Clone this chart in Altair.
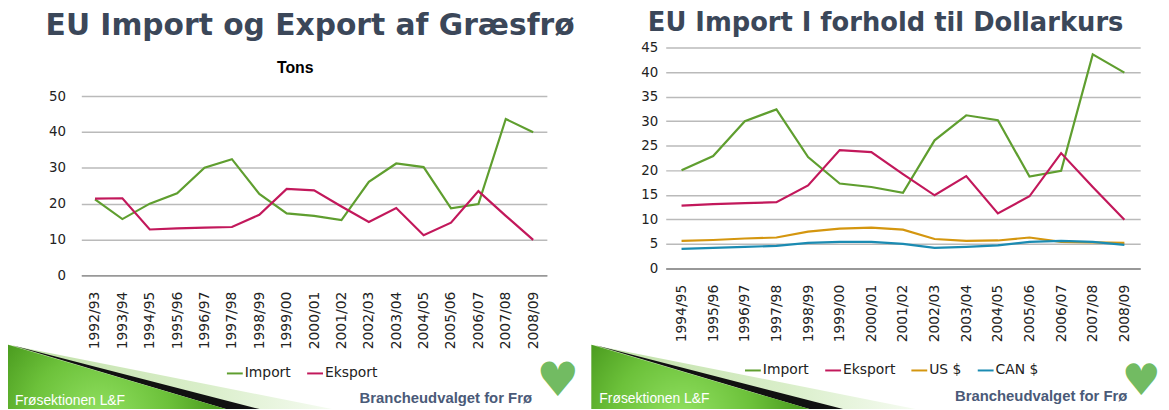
import altair as alt
import pandas as pd

# ---------------- data ----------------
seasons_all = ["1992/93", "1993/94", "1994/95", "1995/96", "1996/97", "1997/98",
               "1998/99", "1999/00", "2000/01", "2001/02", "2002/03", "2003/04",
               "2004/05", "2005/06", "2006/07", "2007/08", "2008/09"]
import_tons = [21.2, 15.7, 20.0, 22.9, 30.0, 32.4, 22.7, 17.3, 16.6, 15.4,
               26.1, 31.2, 30.2, 18.7, 19.9, 43.6, 39.9]
eksport_tons = [21.4, 21.5, 12.8, 13.1, 13.3, 13.5, 16.9, 24.1, 23.7, 19.2,
                14.9, 18.8, 11.2, 14.7, 23.5, 16.6, 9.9]

seasons_right = ["1994/95", "1995/96", "1996/97", "1997/98", "1998/99", "1999/00",
                 "2000/01", "2001/02", "2002/03", "2003/04", "2004/05", "2005/06",
                 "2006/07", "2007/08", "2008/09"]
import_right = [20.0, 22.9, 30.0, 32.4, 22.7, 17.3, 16.6, 15.4, 26.1, 31.2,
                30.2, 18.7, 19.9, 43.6, 39.9]
eksport_right = [12.8, 13.1, 13.3, 13.5, 16.9, 24.1, 23.7, 19.2, 14.9, 18.8,
                 11.2, 14.7, 23.5, 16.6, 9.9]
us_dollar = [5.6, 5.8, 6.1, 6.3, 7.5, 8.1, 8.3, 7.9, 6.0, 5.6, 5.7, 6.3, 5.4, 5.3, 5.2]
can_dollar = [4.0, 4.2, 4.4, 4.6, 5.2, 5.4, 5.4, 5.0, 4.2, 4.4, 4.7, 5.4, 5.6, 5.4, 4.8]

left_series = ["Import", "Eksport"]
left_colors = ["#5f9e2f", "#c2185b"]
right_series = ["Import", "Eksport", "US $", "CAN $"]
right_colors = ["#5f9e2f", "#c2185b", "#d4960f", "#1b8bb2"]

left_y_ticks = [0, 10, 20, 30, 40, 50]
right_y_ticks = [0, 5, 10, 15, 20, 25, 30, 35, 40, 45]

title_left = "EU Import og Export af Græsfrø"
subtitle_left = "Tons"
title_right = "EU Import I forhold til Dollarkurs"
footer_left_text = "Frøsektionen L&F"
footer_right_text = "Brancheudvalget for Frø"


def long_df(seasons, series_names, series_values):
    rows = []
    for name, vals in zip(series_names, series_values):
        for s, v in zip(seasons, vals):
            rows.append({"season": s, "series": name, "value": v})
    return pd.DataFrame(rows)


left_df = long_df(seasons_all, left_series, [import_tons, eksport_tons])
right_df = long_df(seasons_right, right_series,
                   [import_right, eksport_right, us_dollar, can_dollar])

one = alt.Data(values=[{}])

# footer triangle shapes (unit path coordinates)
LIGHT = "M-1,-0.1988L1,0.1988L-1,0.1988Z"
BAND = "M-0.9755,-0.1957L0.5535,0.1988L0.3456,0.1988Z"
GREEN = "M-1,-0.1988L0.3456,0.1988L-1,0.1988Z"
TRI_SIZE = 327 ** 2


def line_chart(df, seasons, series, colors, ydom, yrange, yticks, w, h, lx, ly,
               lpad, ylabpad):
    return alt.Chart(df).mark_line(strokeWidth=2.2).encode(
        x=alt.X("season:N", sort=seasons, scale=alt.Scale(domain=seasons),
                axis=alt.Axis(title=None, labelAngle=-90, ticks=False, domain=True,
                              domainColor="#878787", domainWidth=1.5, labelPadding=lpad,
                              labelFont="DejaVu Sans", labelFontSize=14,
                              labelColor="#222222", grid=False)),
        y=alt.Y("value:Q", scale=alt.Scale(domain=ydom, range=yrange, nice=False,
                                           zero=True),
                axis=alt.Axis(title=None, values=yticks, ticks=False, domain=False,
                              grid=True, gridColor="#bababa", gridWidth=1.5,
                              labelPadding=ylabpad, labelFont="DejaVu Sans",
                              labelFontSize=13.5, labelColor="#222222")),
        color=alt.Color("series:N", sort=series,
                        scale=alt.Scale(domain=series, range=colors),
                        legend=alt.Legend(title=None, orient="none", legendX=lx,
                                          legendY=ly, direction="horizontal",
                                          symbolType="stroke", symbolSize=256,
                                          symbolStrokeWidth=2, labelFont="DejaVu Sans",
                                          labelFontSize=14, labelColor="#222222",
                                          labelOffset=1, columnPadding=12, padding=0)),
    ).properties(width=w, height=h)


def decorations(tri_cx, tri_cy, foot_y, f1x, f2x, heart_x, heart_y, heart_size):
    light = alt.Chart(one).mark_point(
        shape=LIGHT, filled=True, opacity=1, strokeWidth=0,
        fill=alt.LinearGradient(gradient="linear", x1=0, y1=0, x2=1, y2=0, stops=[
            alt.GradientStop(color="#bfe0a6", offset=0),
            alt.GradientStop(color="#d9eec9", offset=0.6),
            alt.GradientStop(color="#f5fbf1", offset=1)])
    ).encode(x=alt.value(tri_cx), y=alt.value(tri_cy), size=alt.value(TRI_SIZE))
    band = alt.Chart(one).mark_point(
        shape=BAND, filled=True, opacity=1, strokeWidth=0, fill="#111111"
    ).encode(x=alt.value(tri_cx), y=alt.value(tri_cy), size=alt.value(TRI_SIZE))
    green = alt.Chart(one).mark_point(
        shape=GREEN, filled=True, opacity=1, strokeWidth=0,
        fill=alt.RadialGradient(gradient="radial", x1=0.42, y1=0.7, x2=0.42, y2=0.7,
                                r1=0, r2=0.65, stops=[
            alt.GradientStop(color="#93e263", offset=0),
            alt.GradientStop(color="#6cc13a", offset=0.5),
            alt.GradientStop(color="#3b8a12", offset=1)])
    ).encode(x=alt.value(tri_cx), y=alt.value(tri_cy), size=alt.value(TRI_SIZE))
    f1 = alt.Chart(one).mark_text(
        text=footer_left_text, font="Liberation Sans", fontSize=14, color="#ffffff",
        align="left", baseline="alphabetic"
    ).encode(x=alt.value(f1x), y=alt.value(foot_y))
    f2 = alt.Chart(one).mark_text(
        text=footer_right_text, font="Liberation Sans", fontSize=15, fontWeight="bold",
        color="#4a5a78", align="right", baseline="alphabetic"
    ).encode(x=alt.value(f2x), y=alt.value(foot_y - 2))
    heart = alt.Chart(one).mark_text(
        text="♥", font="DejaVu Sans", fontSize=heart_size, color="#72bb62",
        align="center", baseline="middle"
    ).encode(x=alt.value(heart_x), y=alt.value(heart_y))
    return [light, band, green, f1, f2, heart]


# Both panels have their view origin at page y = 45.
# ---------------- left panel (view origin at page 82,45; plot 94..275) ----------------
left_line = line_chart(left_df, seasons_all, left_series, left_colors, [0, 50],
                       [230, 49], left_y_ticks, 470, 230, 146, 320, 16, 16)
left_title = alt.Chart(one).mark_text(
    text=title_left, font="DejaVu Sans", fontSize=30, fontWeight="bold",
    color="#3b4759", align="center", baseline="middle"
).encode(x=alt.value(231), y=alt.value(-22))
left_sub = alt.Chart(one).mark_text(
    text=subtitle_left, font="Liberation Sans", fontSize=16, fontWeight="bold",
    color="#000000", align="center", baseline="middle"
).encode(x=alt.value(216), y=alt.value(21))
left_panel = alt.layer(
    *decorations(89.5, 332.5, 361, -67, 455, 481, 338, 48),
    left_line, left_title, left_sub
)

# ---------------- right panel (view origin at page 664,45) ----------------
right_line = line_chart(right_df, seasons_right, right_series, right_colors, [0, 45],
                        [223, 0], right_y_ticks, 479, 223, 79, 317, 16, 8)
right_title = alt.Chart(one).mark_text(
    text=title_right, font="DejaVu Sans", fontSize=26, fontWeight="bold",
    color="#3b4759", align="center", baseline="middle"
).encode(x=alt.value(222), y=alt.value(-25))
right_panel = alt.layer(
    *decorations(88.5, 332.5, 359, -67, 466, 480, 338, 44),
    right_line, right_title
)

chart = alt.hconcat(left_panel, right_panel, spacing=12).resolve_scale(
    color="independent", x="independent", y="independent"
).resolve_legend(color="independent").configure_view(stroke=None).properties(padding=0)

chart.save("out.html", embed_options={"renderer": "svg", "actions": False})
